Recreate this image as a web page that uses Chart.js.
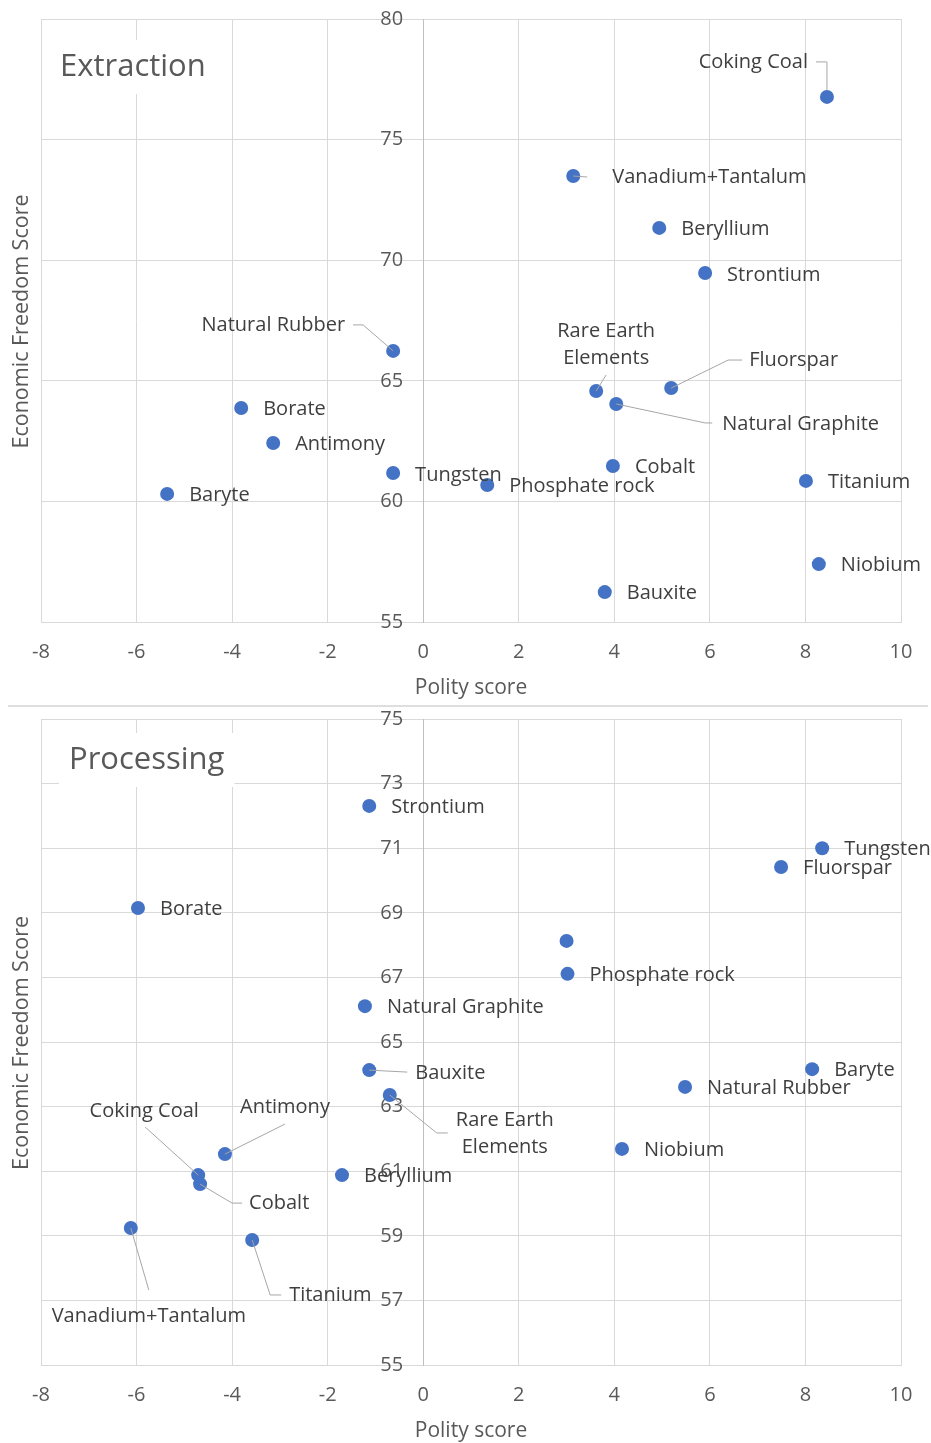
<!DOCTYPE html>
<html>
<head>
<meta charset="utf-8">
<script src="https://cdn.jsdelivr.net/npm/chart.js@4"></script>
<style>
  body { margin: 0; background: #fff; width: 931px; height: 1443px; overflow: hidden; }
  .wrap { position: relative; width: 931px; }
  #sep { position: absolute; left: 8px; top: 705px; width: 920px; height: 2px; background: #dedede; }
</style>
</head>
<body>
<div class="wrap" style="height:705px"><canvas id="extraction"></canvas></div>
<div id="sep"></div>
<div class="wrap" style="height:738px"><canvas id="processing"></canvas></div>
<script>
// Extraction panel
const extractionMinerals = ['Coking Coal', 'Vanadium+Tantalum', 'Beryllium', 'Strontium', 'Natural Rubber',
  'Rare Earth\nElements', 'Fluorspar', 'Natural Graphite', 'Borate', 'Antimony', 'Tungsten',
  'Phosphate rock', 'Cobalt', 'Titanium', 'Baryte', 'Niobium', 'Bauxite'];
const extractionPolity = [8.45, 3.14, 4.94, 5.90, -0.63, 3.62, 5.19, 4.04, -3.81, -3.14, -0.63, 1.34, 3.97, 8.01, -5.36, 8.28, 3.80];
const extractionFreedom = [76.77, 73.49, 71.34, 69.47, 66.24, 64.58, 64.70, 64.04, 63.87, 62.42, 61.18, 60.68, 61.47, 60.85, 60.31, 57.40, 56.24];
const extractionTicksY = [55, 80, 5];

// Processing panel
const processingMinerals = ['Strontium', 'Tungsten', 'Fluorspar', 'Borate', '', 'Phosphate rock', 'Natural Graphite',
  'Bauxite', 'Baryte', 'Natural Rubber', 'Rare Earth\nElements', 'Antimony', 'Niobium', 'Coking Coal', 'Cobalt',
  'Beryllium', 'Vanadium+Tantalum', 'Titanium'];
const processingPolity = [-1.13, 8.35, 7.49, -5.97, 3.00, 3.02, -1.22, -1.13, 8.14, 5.48, -0.70, -4.15, 4.16, -4.71, -4.67, -1.70, -6.12, -3.58];
const processingFreedom = [72.31, 71.00, 70.42, 69.15, 68.13, 67.11, 66.11, 64.13, 64.16, 63.61, 63.36, 61.53, 61.69, 60.88, 60.60, 60.88, 59.24, 58.87];
const processingTicksY = [55, 75, 2];

const polityTicks = [-8, 10, 2];

// label placement (pixel offsets from the point), leader lines where Excel drew them
const extractionLabels = {
  'Coking Coal': { dx: -19, dy: -35, align: 'right', leader: [[-11, -35], [0, -35], [0, -7]] },
  'Vanadium+Tantalum': { dx: 39, dy: 1, leader: [[0, 0], [14, 1]] },
  'Natural Rubber': { dx: -48, dy: -26, align: 'right', leader: [[-40, -26], [-30, -26], [0, 0]] },
  'Rare Earth\nElements': { dx: 10, dy: -46, align: 'center', leader: [[10, -16], [0, 0]] },
  'Fluorspar': { dx: 78, dy: -28, leader: [[71, -28], [57, -28], [0, 0]] },
  'Natural Graphite': { dx: 106, dy: 20, leader: [[0, 0], [89, 19], [96, 19]] },
  'Strontium': { dx: 22, dy: 2 },
  'Tungsten': { dx: 22, dy: 2 }
};
const processingLabels = {
  'Bauxite': { dx: 46, dy: 3, leader: [[0, 0], [38, 2]] },
  'Rare Earth\nElements': { dx: 115, dy: 39, align: 'center', leader: [[0, 0], [47, 38], [58, 38]] },
  'Antimony': { dx: 60, dy: -47, align: 'center', leader: [[60, -30], [0, 0]] },
  'Coking Coal': { dx: -54, dy: -64, align: 'center', leader: [[-53, -48], [0, 0]] },
  'Cobalt': { dx: 49, dy: 19, leader: [[0, 0], [32, 19], [42, 19]] },
  'Vanadium+Tantalum': { dx: 18, dy: 88, align: 'center', leader: [[0, 0], [18, 62]] },
  'Titanium': { dx: 37, dy: 55, leader: [[0, 0], [18, 55], [29, 55]] }
};

const fontFamily = '"Open Sans", "Noto Sans", sans-serif';
const axisGrey = '#595959';

const panelText = {
  id: 'panelText',
  beforeDatasetsDraw(chart, args, opts) {
    const ctx = chart.ctx;
    const area = chart.chartArea;
    ctx.save();
    // title box hides the gridline behind it
    ctx.font = '31px ' + fontFamily;
    const w = ctx.measureText(opts.title).width;
    const tx = area.left + opts.titleX;
    const ty = area.top + opts.titleY;
    ctx.fillStyle = '#fff';
    ctx.fillRect(tx - 10, ty - 27, w + 20, 54);
    ctx.fillStyle = axisGrey;
    ctx.textBaseline = 'middle';
    ctx.textAlign = 'left';
    ctx.fillText(opts.title, tx, ty);

    // y tick labels sit left of the x = 0 axis line
    const xs = chart.scales.x, ys = chart.scales.y;
    const x0 = xs.getPixelForValue(0);
    ctx.font = '20px ' + fontFamily;
    ctx.textAlign = 'right';
    ys.ticks.forEach(t => {
      ctx.fillText(String(t.value), x0 - 20, ys.getPixelForValue(t.value));
    });

    ctx.font = '21px ' + fontFamily;
    ctx.textAlign = 'center';
    ctx.fillText('Polity score', (area.left + area.right) / 2, opts.xTitleY);
    ctx.font = '21.5px ' + fontFamily;
    ctx.translate(22, (area.top + area.bottom) / 2 + 1);
    ctx.rotate(-Math.PI / 2);
    ctx.fillText('Economic Freedom Score', 0, 0);
    ctx.restore();
  },
  afterDatasetsDraw(chart, args, opts) {
    const ctx = chart.ctx;
    const meta = chart.getDatasetMeta(0);
    const names = chart.data.datasets[0].names;
    ctx.save();
    ctx.font = '20px ' + fontFamily;
    ctx.textBaseline = 'middle';
    meta.data.forEach((pt, i) => {
      const name = names[i];
      if (!name) return;
      const spec = Object.assign({ dx: 22, dy: 1, align: 'left' }, opts.labels[name] || {});
      if (spec.leader) {
        ctx.strokeStyle = '#a6a6a6';
        ctx.lineWidth = 1;
        ctx.beginPath();
        spec.leader.forEach(([lx, ly], k) => {
          if (k === 0) ctx.moveTo(pt.x + lx, pt.y + ly);
          else ctx.lineTo(pt.x + lx, pt.y + ly);
        });
        ctx.stroke();
      }
      ctx.fillStyle = '#3f3f3f';
      ctx.textAlign = spec.align;
      const lines = name.split('\n');
      lines.forEach((line, k) => {
        const y = pt.y + spec.dy + (k - (lines.length - 1) / 2) * 27;
        ctx.fillText(line, pt.x + spec.dx, y);
      });
    });
    ctx.restore();
  }
};

function makeChart(id, names, xs, ys, ticksY, opts) {
  const points = xs.map((x, i) => ({ x: x, y: ys[i] }));
  return new Chart(document.getElementById(id), {
    type: 'scatter',
    data: {
      datasets: [{
        data: points,
        names: names,
        backgroundColor: '#4472c4',
        borderWidth: 0,
        pointRadius: 7,
        pointHoverRadius: 7
      }]
    },
    options: {
      responsive: true,
      maintainAspectRatio: false,
      animation: false,
      events: [],
      layout: { padding: { top: opts.top, left: 41, right: 30, bottom: 0 } },
      plugins: {
        legend: { display: false },
        tooltip: { enabled: false },
        panelText: { title: opts.title, titleX: opts.titleX, titleY: opts.titleY, xTitleY: opts.xTitleY, labels: opts.labels }
      },
      scales: {
        x: {
          type: 'linear',
          min: polityTicks[0],
          max: polityTicks[1],
          ticks: { stepSize: polityTicks[2], color: axisGrey, font: { family: fontFamily, size: 20 }, padding: 18 },
          grid: { color: '#d9d9d9', drawTicks: false },
          border: { display: true, color: '#d9d9d9' },
          afterFit: s => { s.height = opts.xHeight; s.paddingLeft = 0; s.paddingRight = 0; }
        },
        y: {
          type: 'linear',
          position: { x: 0 },
          min: ticksY[0],
          max: ticksY[1],
          ticks: { stepSize: ticksY[2], display: false },
          grid: { color: '#d9d9d9', drawTicks: false },
          border: { display: true, color: '#bfbfbf' },
          afterFit: s => { s.paddingTop = 0; s.paddingBottom = 0; }
        }
      }
    },
    plugins: [panelText]
  });
}

makeChart('extraction', extractionMinerals, extractionPolity, extractionFreedom, extractionTicksY,
  { top: 19, xHeight: 83, title: 'Extraction', titleX: 19, titleY: 48, xTitleY: 688, labels: extractionLabels });
makeChart('processing', processingMinerals, processingPolity, processingFreedom, processingTicksY,
  { top: 14, xHeight: 78, title: 'Processing', titleX: 28, titleY: 41, xTitleY: 726, labels: processingLabels });
</script>
</body>
</html>
